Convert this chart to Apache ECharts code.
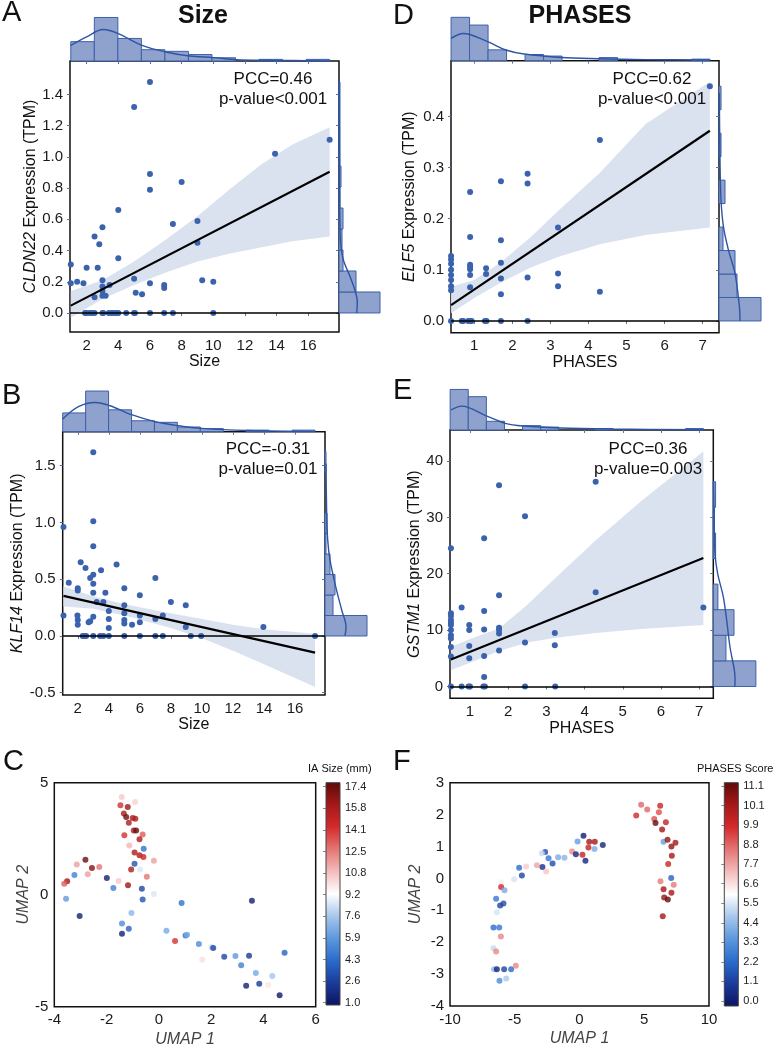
<!DOCTYPE html>
<html>
<head>
<meta charset="utf-8">
<title>Size / PHASES expression correlations</title>
<script src="https://cdn.jsdelivr.net/npm/echarts@6/dist/echarts.min.js"></script>
<style>
  html, body { margin: 0; padding: 0; background: #fff; }
  #chart { width: 776px; height: 1050px; }
</style>
</head>
<body>
<div id="chart"></div>
<script>
// ---------- data ----------

// A: CLDN22 vs Size
const aPoints = [
  [1.0, 0.31], [1.0, 0.19], [1.4, 0.2], [1.8, 0.19], [2.0, 0.29], [2.5, 0.49], [2.8, 0.44], [2.7, 0.29],
  [3.0, 0.55], [3.0, 0.21], [3.0, 0.17], [3.0, 0.14], [3.0, 0.11], [2.5, 0.1], [3.2, 0.11], [3.45, 0.18],
  [4.0, 0.66], [4.0, 0.35], [5.0, 1.32], [5.0, 0.22], [5.1, 0.13], [5.5, 0.12], [6.0, 1.48], [6.0, 0.89],
  [6.0, 0.79], [6.0, 0.19], [6.9, 0.18], [6.9, 0.16], [7.45, 0.57], [8.0, 0.84], [9.0, 0.59], [9.0, 0.45],
  [9.3, 0.21], [10.0, 0.2], [13.9, 1.02], [17.35, 1.11],
  [1.9, 0], [2.0, 0], [2.2, 0], [2.35, 0], [2.5, 0], [3.0, 0], [3.05, 0], [3.4, 0], [3.55, 0], [3.7, 0],
  [3.85, 0], [4.0, 0], [4.5, 0], [5.0, 0], [5.05, 0], [6.0, 0], [6.9, 0], [7.45, 0], [10.0, 0]
];
const aFit = [[1.0, 0.047], [17.35, 0.905]];
const aBand = [[1.0, -0.03, 0.14], [3, 0.09, 0.21], [5, 0.18, 0.33], [7, 0.26, 0.47], [9, 0.33, 0.62],
  [11, 0.38, 0.79], [13, 0.42, 0.95], [15, 0.46, 1.08], [17.35, 0.49, 1.19]];
const aTopBins = { start: 1.0, width: 1.486 };
const aTopCounts = [12, 27, 14, 7, 6, 4, 2, 0, 1, 0, 1];
const aTopKde = [[1.0, 9.7], [2.0, 15], [3.05, 19.5], [4.0, 17], [5.5, 9.7], [7.0, 5.6], [8.5, 3.1],
  [10, 2.1], [11.5, 0.8], [13, 0.5], [15, 0.3], [17.35, 0.1]];
const aRightBins = { start: 0, width: 0.1345 };
const aRightCounts = [41, 17, 4, 3, 4, 1, 2, 1, 1, 1, 1];
const aRightKde = [[17.7, 0], [18.3, 0.07], [16.7, 0.13], [11, 0.234], [4.3, 0.341], [1.6, 0.45],
  [1, 0.55], [0.6, 0.8], [0.4, 1.1], [0.2, 1.48]];

// B: KLF14 vs Size
const bPoints = [
  [1.08, 0.96], [1.08, 0.18], [1.42, 0.47], [1.98, 0.18], [2.0, 0.14], [2.0, 0.1], [2.19, 0.65], [2.5, 0.6],
  [2.8, 0.51], [3.0, 1.62], [3.0, 1.01], [3.0, 0.79], [3.0, 0.54], [3.0, 0.46], [3.0, 0.38], [3.0, 0.17],
  [2.8, 0.13], [2.7, 0.12], [2.0, 0.42], [2.0, 0.4], [3.22, 0.3], [3.5, 0.58], [3.78, 0.38], [3.65, 0.3],
  [4.0, 0.22], [4.0, 0.15], [4.0, 0.07], [4.5, 0.63], [5.0, 0.42], [5.0, 0.27], [5.0, 0.2], [5.0, 0.14],
  [5.0, 0.11], [5.5, 0.1], [6.0, 0.36], [6.0, 0.18], [6.0, 0.12], [7.0, 0.51], [7.0, 0.15], [7.48, 0.18],
  [8.0, 0.3], [8.96, 0.27], [8.96, 0.08], [13.96, 0.08],
  [2.32, 0], [2.43, 0], [2.54, 0], [3.0, 0], [3.44, 0], [3.65, 0], [4.0, 0], [5.0, 0], [6.0, 0], [7.0, 0],
  [7.48, 0], [9.28, 0], [9.95, 0], [17.29, 0]
];
const bFit = [[1.08, 0.353], [17.29, -0.147]];
const bBand = [[1.08, 0.259, 0.435], [3, 0.24, 0.35], [5, 0.18, 0.28], [8, 0.07, 0.2], [10, -0.02, 0.15],
  [12, -0.13, 0.1], [14, -0.25, 0.06], [17.29, -0.45, 0.02]];
const bTopBins = { start: 1.03, width: 1.478 };
const bTopCounts = [12, 26, 14, 7, 6, 3, 2, 0, 1, 0, 1];
const bTopKde = [[1.03, 8.1], [2.04, 16], [3.12, 18.7], [4.08, 16.6], [5.52, 10.7], [6.98, 6.4],
  [8.49, 3.8], [9.99, 2.1], [12.93, 0.8], [17.29, 0.2]];
const bRightBins = { start: 0, width: 0.1806 };
const bRightCounts = [42, 8, 10, 5, 1, 2, 0, 0, 1];
const bRightKde = [[20, 0], [21, 0.082], [16.7, 0.229], [10.7, 0.435], [5, 0.67], [2.7, 0.847],
  [1.7, 1.08], [1, 1.52]];

// D: ELF5 vs PHASES
const dPoints = [
  [0.39, 0.127], [0.39, 0.12], [0.39, 0.112], [0.39, 0.1], [0.39, 0.09], [0.39, 0.08], [0.39, 0.068], [0.39, 0.06],
  [0.89, 0.252], [0.89, 0.164], [0.89, 0.11], [0.89, 0.106], [0.89, 0.101], [0.89, 0.09], [0.89, 0.066],
  [1.31, 0.103], [1.31, 0.092], [1.7, 0.273], [1.7, 0.158], [1.7, 0.114], [1.7, 0.083], [1.7, 0.052],
  [2.4, 0.288], [2.4, 0.269], [2.4, 0.085], [3.2, 0.183], [3.2, 0.093], [3.2, 0.068],
  [4.3, 0.354], [4.3, 0.057], [7.19, 0.459],
  [0.39, 0], [0.67, 0], [0.71, 0], [0.84, 0], [0.89, 0], [0.93, 0], [1.28, 0], [1.32, 0], [1.7, 0], [2.4, 0]
];
const dFit = [[0.39, 0.031], [7.19, 0.372]];
const dBand = [[0.39, 0.015, 0.067], [1, 0.045, 0.08], [1.7, 0.075, 0.115], [2.5, 0.105, 0.165],
  [3.2, 0.125, 0.215], [4.3, 0.15, 0.29], [5.5, 0.168, 0.385], [7.19, 0.183, 0.468]];
const dTopBins = { start: 0.39, width: 0.486 };
const dTopCounts = [28, 23, 7, 0, 4, 3, 0, 0, 2, 0, 0, 0, 0, 1];
const dTopKde = [[0.39, 14.4], [0.71, 17.6], [1.35, 12.3], [1.83, 6.9], [2.31, 4.3], [3.29, 2.1],
  [4.25, 1.3], [5.5, 0.7], [7.19, 0.45]];
const dRightBins = { start: 0, width: 0.0459 };
const dRightCounts = [21, 9, 8, 2, 0, 3, 0, 1, 0, 1];
const dRightKde = [[10.5, 0], [10.2, 0.028], [8, 0.093], [4.7, 0.139], [2.2, 0.185], [1, 0.237],
  [0.5, 0.315], [0.15, 0.446]];

// E: GSTM1 vs PHASES
const ePoints = [
  [0.5, 24.5], [0.5, 13.0], [0.5, 12.5], [0.5, 11.8], [0.5, 11.3], [0.5, 10.9], [0.5, 10.0], [0.5, 9.1],
  [0.5, 8.5], [0.5, 7.0], [0.5, 5.3], [0.78, 14.0], [0.98, 10.9], [0.98, 10.0], [0.98, 7.2], [0.98, 5.0],
  [1.37, 26.3], [1.37, 13.4], [1.37, 10.1], [1.37, 5.4], [1.37, 1.7], [1.76, 35.7], [1.76, 16.2],
  [1.76, 10.4], [1.76, 10.0], [1.76, 9.4], [1.76, 6.4], [2.44, 30.2], [2.44, 7.8], [3.22, 9.5],
  [3.22, 7.3], [4.29, 36.3], [4.29, 16.7], [7.11, 14.0],
  [0.5, 0], [0.78, 0], [0.96, 0], [1.0, 0], [1.35, 0], [1.39, 0], [2.44, 0], [3.23, 0]
];
const eFit = [[0.5, 4.8], [7.11, 22.8]];
const eBand = [[0.5, 2.9, 7.0], [1, 4.2, 8.4], [1.76, 6.3, 10.3], [2.5, 7.8, 14.5], [3.2, 8.6, 19],
  [4.3, 9.5, 26], [5.5, 10.2, 33], [7.11, 10.9, 41.7]];
const eTopBins = { start: 0.48, width: 0.474 };
const eTopCounts = [28, 23, 6, 0, 3, 2, 0, 0, 1, 0, 0, 0, 0, 1];
const eTopKde = [[0.5, 13.8], [0.78, 16.5], [1.44, 9.6], [1.92, 4.6], [2.4, 2.75], [3.36, 1.4],
  [4.75, 0.7], [7.11, 0.2]];
const eRightBins = { start: 0, width: 4.54 };
const eRightCounts = [37, 11, 18, 4, 0, 2, 1, 2];
const eRightKde = [[18.7, 0], [18.9, 1.1], [18.3, 2.9], [14.5, 7.0], [11.6, 11.8], [8.7, 15.9],
  [3.7, 20.1], [1.5, 23.6], [0.6, 30.7], [0.2, 36.3]];

// C: UMAP coloured by IA size (mm)
const cUmap = [
  [-1.42, 4.36, 10.5], [-0.91, 4.14, 10.3], [-1.47, 3.99, 14], [-1.19, 3.91, 16], [-1.34, 3.62, 15.5],
  [-1.25, 3.47, 17], [-1.0, 3.42, 15.5], [-0.9, 3.39, 15.5], [-1.15, 3.21, 15.5], [-0.96, 2.87, 15.5],
  [-0.87, 2.87, 17], [-1.32, 2.65, 14], [-0.62, 2.69, 13], [-0.74, 2.47, 15.5], [-1.13, 2.2, 11],
  [-0.58, 2.05, 4.5], [-0.93, 1.88, 15.5], [-0.74, 1.76, 15.5], [-0.59, 1.68, 14.5], [-0.19, 1.52, 11.5],
  [-0.93, 1.38, 3.5], [-0.72, 1.13, 8.5], [-1.06, 1.12, 15.5], [-2.81, 1.56, 17], [-3.14, 1.35, 11.5],
  [-2.56, 1.19, 16.5], [-2.28, 1.24, 12.5], [-2.72, 0.91, 11.5], [-3.23, 0.88, 5], [-3.51, 0.6, 16],
  [-3.62, 0.49, 13], [-1.99, 0.74, 1.5], [-1.54, 0.61, 10.5], [-1.18, 0.42, 16], [-0.46, 0.8, 12.5],
  [-1.74, 0.3, 5], [-0.65, 0.27, 3], [-0.19, 0.03, 8.5], [-3.55, -0.18, 6], [-0.62, -0.21, 3.5],
  [0.87, -0.37, 4.5], [3.56, -0.27, 1.5], [-3.03, -0.95, 1.5], [-1.05, -0.82, 7], [-1.41, -1.29, 5.5],
  [-1.15, -1.52, 4], [-1.41, -1.74, 1.5], [0.29, -1.61, 6.5], [1.02, -1.82, 4.5], [1.08, -1.79, 6.5],
  [0.62, -2.07, 14], [1.53, -2.2, 5.5], [2.02, -2.35, 8], [2.08, -2.38, 3], [2.5, -2.77, 3],
  [2.93, -2.74, 6], [3.45, -2.72, 2.5], [3.15, -3.15, 5], [1.66, -2.9, 10], [4.81, -2.59, 4],
  [3.71, -3.5, 6.5], [4.34, -3.63, 7.5], [3.34, -4.06, 1.5], [3.84, -3.97, 2.5], [4.19, -4.03, 9.8],
  [4.62, -4.49, 1.2]
];
const cBarLabels = ['1.0', '2.6', '4.3', '5.9', '7.6', '9.2', '10.8', '12.5', '14.1', '15.8', '17.4'];

// F: UMAP coloured by PHASES score
const fUmap = [
  [4.38, 1.97, 9], [4.76, 2.31, 8], [5.23, 2.16, 8], [6.23, 2.28, 9.2], [6.13, 2.07, 8.3], [5.77, 1.86, 8.3],
  [5.87, 1.74, 11], [6.38, 1.53, 10], [6.67, 1.76, 9.3], [6.49, 1.15, 3.5], [6.8, 1.21, 10.3],
  [7.1, 1.0, 10.3], [7.41, 1.12, 10], [7.13, 0.71, 10], [6.85, 0.45, 9.2], [7.08, 0.01, 2],
  [6.25, -0.09, 7.7], [7.28, -0.2, 7.7], [6.49, -0.34, 10], [6.54, -0.6, 10.3], [6.82, -0.66, 11],
  [7.1, -0.45, 10], [6.43, -1.19, 10],
  [0.31, 1.34, 0.3], [-0.15, 1.16, 3.5], [0.75, 1.15, 10], [1.18, 1.15, 10], [1.8, 1.05, 0.5],
  [0.69, 0.97, 9.3], [1.16, 0.92, 3.8], [0.23, 0.74, 9.3], [-0.57, 0.84, 7.5], [-0.28, 0.76, 0.5],
  [0.46, 0.55, 0.5], [-2.65, 0.83, 1.5], [-2.91, 0.79, 4.8], [-2.39, 0.63, 2.5], [-1.65, 0.66, 3.8],
  [-1.16, 0.65, 4], [-2.08, 0.47, 1.5], [-3.29, 0.41, 7], [-2.86, 0.36, 0.8], [-2.57, 0.22, 6.5],
  [-4.12, 0.37, 6.4], [-4.66, 0.33, 2.3], [-4.45, 0.09, 1.3], [-5.04, -0.03, 5],
  [-6.05, -0.11, 5.8], [-6.05, -0.27, 9], [-5.79, -0.37, 3.8], [-6.44, -0.64, 2.5], [-5.87, -0.79, 1.5],
  [-6.13, -0.85, 1.3], [-6.38, -1.06, 5], [-6.64, -1.54, 2.2], [-6.2, -1.54, 2.5], [-6.07, -1.82, 7.5],
  [-6.64, -2.19, 4.8], [-6.44, -2.29, 7.5], [-6.59, -2.85, 4], [-6.38, -2.85, 0.5], [-5.82, -2.85, 1.3],
  [-5.28, -2.85, 2.2], [-4.92, -2.74, 7.5], [-6.18, -3.21, 3], [-5.66, -3.14, 4.5]
];
const fBarLabels = ['0.0', '1.1', '2.2', '3.3', '4.4', '5.5', '6.6', '7.7', '8.8', '9.9', '10.1', '11.1'];

// ---------- styles ----------
const FONT = '"Liberation Sans", Arial, sans-serif';
const DOT = '#3b63ad';
const HIST_FILL = '#8fa2cd';
const HIST_EDGE = '#3d5fa9';
const KDE = '#2d55a5';
const BAND = '#dbe2ef';
const TICK = '#5673b0';
const PALETTE = ['#0c1460', '#1b3a9a', '#2a6bcc', '#5b98de', '#a7c6ec', '#ffffff',
  '#f4bcbc', '#e57575', '#d42a2a', '#a51818', '#5e0a0a'];

const grid = [], xAxis = [], yAxis = [], series = [], visualMap = [];

function addGrid(rect, xa, ya, boxed) {
  grid.push(Object.assign({ show: !!boxed, borderColor: '#111', borderWidth: 1.5, backgroundColor: 'transparent' }, rect));
  const gi = grid.length - 1;
  xAxis.push(Object.assign({ gridIndex: gi, type: 'value', splitLine: { show: false } }, xa));
  yAxis.push(Object.assign({ gridIndex: gi, type: 'value', splitLine: { show: false } }, ya));
  return gi;
}

function ticksOnly(values) {
  return {
    axisLine: { show: false },
    axisTick: { show: true, length: 3, customValues: values, lineStyle: { color: TICK } },
    axisLabel: { show: false }
  };
}

function labelled(values, fmt, margin) {
  return {
    axisLine: { show: false },
    axisTick: { show: true, length: 3, customValues: values, lineStyle: { color: TICK } },
    axisLabel: { customValues: values, formatter: fmt, margin: margin, color: '#1a1a1a', fontSize: 15, fontFamily: FONT }
  };
}

function bins(spec, counts) {
  return counts
    .map((c, i) => [spec.start + i * spec.width, spec.start + (i + 1) * spec.width, c])
    .filter(b => b[2] > 0);
}

function topBar(params, api) {
  const a = api.coord([api.value(0), api.value(2)]);
  const b = api.coord([api.value(1), 0]);
  return { type: 'rect', shape: { x: a[0], y: a[1], width: b[0] - a[0], height: b[1] - a[1] },
    style: { fill: HIST_FILL, stroke: HIST_EDGE, lineWidth: 1 } };
}

function rightBar(params, api) {
  const a = api.coord([api.value(2), api.value(1)]);
  const b = api.coord([0, api.value(0)]);
  return { type: 'rect', shape: { x: b[0], y: a[1], width: a[0] - b[0], height: b[1] - a[1] },
    style: { fill: HIST_FILL, stroke: HIST_EDGE, lineWidth: 1 } };
}

function bandRenderer(band) {
  return function (params, api) {
    const upper = band.map(b => api.coord([b[0], b[2]]));
    const lower = band.slice().reverse().map(b => api.coord([b[0], b[1]]));
    const cs = params.coordSys;
    return {
      type: 'polygon',
      shape: { points: upper.concat(lower) },
      style: { fill: BAND },
      clipPath: { type: 'rect', shape: { x: cs.x, y: cs.y, width: cs.width, height: cs.height } }
    };
  };
}

function kdeSeries(gi, data) {
  return { type: 'line', xAxisIndex: gi, yAxisIndex: gi, data: data, smooth: 0.35, symbol: 'none',
    silent: true, z: 5, lineStyle: { color: KDE, width: 1.4 } };
}

const yName = { fontSize: 16, color: '#111', fontFamily: FONT,
  rich: { g: { fontStyle: 'italic', fontSize: 16, color: '#111', fontFamily: FONT } } };
const xName = { fontSize: 16, color: '#111', fontFamily: FONT };

function jointPanel(p) {
  const m = addGrid(p.box,
    Object.assign({ min: p.xRange[0], max: p.xRange[1], name: p.xTitle, nameLocation: 'middle',
      nameGap: p.xNameGap, nameTextStyle: xName }, labelled(p.xTicks, v => String(v), 6)),
    Object.assign({ min: p.yRange[0], max: p.yRange[1], name: '{g|' + p.gene + '} Expression (TPM)',
      nameLocation: 'middle', nameRotate: 90, nameGap: p.yNameGap, nameTextStyle: yName },
      labelled(p.yTicks, p.yFmt, 7)),
    true);

  series.push({ type: 'custom', xAxisIndex: m, yAxisIndex: m, z: 1, silent: true,
    data: [p.band[0]], renderItem: bandRenderer(p.band) });
  series.push({ type: 'scatter', xAxisIndex: m, yAxisIndex: m, z: 3, symbolSize: 6,
    itemStyle: { color: DOT, opacity: 1 }, data: p.points,
    markLine: { silent: true, symbol: ['none', 'none'], animation: false, label: { show: false },
      lineStyle: { color: '#000', width: 1.5, type: 'solid' }, data: [{ yAxis: 0 }] } });
  series.push({ type: 'line', xAxisIndex: m, yAxisIndex: m, z: 4, data: p.fit, symbol: 'none',
    silent: true, lineStyle: { color: '#000', width: 2.2 } });

  const t = addGrid(p.topBox,
    Object.assign({ min: p.xRange[0], max: p.xRange[1] }, ticksOnly(p.xTicks)),
    { min: 0, max: p.topMax, show: false });
  series.push({ type: 'custom', xAxisIndex: t, yAxisIndex: t, silent: true,
    data: bins(p.topBins, p.topCounts), renderItem: topBar });
  series.push(kdeSeries(t, p.topKde));

  const r = addGrid(p.rightBox,
    { min: 0, max: p.rightMax, show: false },
    Object.assign({ min: p.yRange[0], max: p.yRange[1] }, ticksOnly(p.yTicks)));
  series.push({ type: 'custom', xAxisIndex: r, yAxisIndex: r, silent: true,
    data: bins(p.rightBins, p.rightCounts), renderItem: rightBar });
  series.push(kdeSeries(r, p.rightKde));
}

const oneDec = v => v.toFixed(1);

jointPanel({
  box: { left: 70, top: 61, width: 269, height: 271 },
  topBox: { left: 70, top: 17, width: 269, height: 44 },
  rightBox: { left: 339, top: 61, width: 45, height: 271 },
  xRange: [0.95, 17.94], yRange: [-0.122, 1.615],
  xTicks: [2, 4, 6, 8, 10, 12, 14, 16], yTicks: [0, 0.2, 0.4, 0.6, 0.8, 1.0, 1.2, 1.4], yFmt: oneDec,
  xTitle: 'Size', gene: 'CLDN22', xNameGap: 21, yNameGap: 23,
  points: aPoints, fit: aFit, band: aBand,
  topBins: aTopBins, topCounts: aTopCounts, topKde: aTopKde, topMax: 27.3,
  rightBins: aRightBins, rightCounts: aRightCounts, rightKde: aRightKde, rightMax: 45
});

jointPanel({
  box: { left: 62.7, top: 431.7, width: 262.3, height: 263.3 },
  topBox: { left: 62.7, top: 389, width: 262.3, height: 42.7 },
  rightBox: { left: 325, top: 431.7, width: 50, height: 263.3 },
  xRange: [1.03, 17.93], yRange: [-0.52, 1.8],
  xTicks: [2, 4, 6, 8, 10, 12, 14, 16], yTicks: [-0.5, 0, 0.5, 1.0, 1.5], yFmt: oneDec,
  xTitle: 'Size', gene: 'KLF14', xNameGap: 22, yNameGap: 28,
  points: bPoints, fit: bFit, band: bBand,
  topBins: bTopBins, topCounts: bTopCounts, topKde: bTopKde, topMax: 27.3,
  rightBins: bRightBins, rightCounts: bRightCounts, rightKde: bRightKde, rightMax: 50
});

jointPanel({
  box: { left: 451, top: 60.7, width: 268, height: 272 },
  topBox: { left: 451, top: 16.7, width: 268, height: 44 },
  rightBox: { left: 719, top: 60.7, width: 57, height: 272 },
  xRange: [0.388, 7.43], yRange: [-0.023, 0.509],
  xTicks: [1, 2, 3, 4, 5, 6, 7], yTicks: [0, 0.1, 0.2, 0.3, 0.4], yFmt: oneDec,
  xTitle: 'PHASES', gene: 'ELF5', xNameGap: 21, yNameGap: 33,
  points: dPoints, fit: dFit, band: dBand,
  topBins: dTopBins, topCounts: dTopCounts, topKde: dTopKde, topMax: 28.4,
  rightBins: dRightBins, rightCounts: dRightCounts, rightKde: dRightKde, rightMax: 28.5
});

jointPanel({
  box: { left: 450, top: 430, width: 263.3, height: 268.3 },
  topBox: { left: 450, top: 389, width: 263.3, height: 41 },
  rightBox: { left: 713.3, top: 430, width: 62.7, height: 268.3 },
  xRange: [0.476, 7.37], yRange: [-2.1, 45.5],
  xTicks: [1, 2, 3, 4, 5, 6, 7], yTicks: [0, 10, 20, 30, 40], yFmt: v => String(v),
  xTitle: 'PHASES', gene: 'GSTM1', xNameGap: 20, yNameGap: 25,
  points: ePoints, fit: eFit, band: eBand,
  topBins: eTopBins, topCounts: eTopCounts, topKde: eTopKde, topMax: 28.3,
  rightBins: eRightBins, rightCounts: eRightCounts, rightKde: eRightKde, rightMax: 54.5
});

// ---------- UMAP panels ----------
const umapTick = { axisLine: { show: false }, axisTick: { show: false },
  axisLabel: { color: '#1a1a1a', fontSize: 15, fontFamily: FONT, margin: 6 } };
const umapName = { fontSize: 16, fontStyle: 'italic', color: '#444', fontFamily: FONT };

function umapPanel(p) {
  const gi = addGrid(p.box,
    Object.assign({ min: p.xRange[0], max: p.xRange[1], interval: p.xStep, name: 'UMAP 1',
      nameLocation: 'middle', nameGap: 25, nameTextStyle: umapName }, umapTick),
    Object.assign({ min: p.yRange[0], max: p.yRange[1], interval: p.yStep, name: 'UMAP 2',
      nameLocation: 'middle', nameRotate: 90, nameGap: p.yNameGap, nameTextStyle: umapName }, umapTick),
    true);
  series.push({ type: 'scatter', xAxisIndex: gi, yAxisIndex: gi, symbolSize: 6, data: p.points, z: 3 });
  visualMap.push({ type: 'continuous', show: false, seriesIndex: series.length - 1, dimension: 2,
    min: p.vRange[0], max: p.vRange[1], inRange: { color: PALETTE } });

  const idx = p.labels.map((_, i) => i);
  const cb = addGrid(p.barBox,
    { min: 0, max: 1, show: false },
    { min: p.barRange[0], max: p.barRange[1], position: 'right', axisLine: { show: false },
      axisTick: { show: true, inside: true, length: 3, customValues: idx, lineStyle: { color: '#888' } },
      axisLabel: { customValues: idx, formatter: v => p.labels[Math.round(v)], fontSize: 11, margin: 5,
        color: '#222', fontFamily: FONT } },
    false);
  series.push({ type: 'custom', xAxisIndex: cb, yAxisIndex: cb, silent: true, data: [[0, p.barRange[0]]], z: 1,
    renderItem: function (params) {
      const cs = params.coordSys;
      return { type: 'rect', shape: { x: cs.x, y: cs.y, width: cs.width, height: cs.height },
        style: { fill: new echarts.graphic.LinearGradient(0, 1, 0, 0,
          PALETTE.map((c, i) => ({ offset: i / (PALETTE.length - 1), color: c }))), stroke: '#444', lineWidth: 1 } };
    } });
}

umapPanel({
  box: { left: 54.3, top: 782.7, width: 261.4, height: 224 },
  barBox: { left: 326, top: 782.7, width: 14, height: 222.3 },
  xRange: [-4, 6], xStep: 2, yRange: [-5, 5], yStep: 5, yNameGap: 22,
  points: cUmap, vRange: [1.0, 17.4], labels: cBarLabels, barRange: [-0.106, 10.185]
});

umapPanel({
  box: { left: 450, top: 782.7, width: 259, height: 223.3 },
  barBox: { left: 724.3, top: 782.7, width: 14, height: 223.3 },
  xRange: [-10, 10], xStep: 5, yRange: [-4, 3], yStep: 1, yNameGap: 26,
  points: fUmap, vRange: [0, 11.1], labels: fBarLabels, barRange: [-0.26, 11.17]
});

// ---------- free text ----------
function txt(text, x, y, font, align, extra) {
  return { type: 'text', x: x, y: y, silent: true, z: 100,
    style: Object.assign({ text: text, font: font, fill: '#111', textAlign: align, align: align,
      textVerticalAlign: 'middle', verticalAlign: 'middle' }, extra || {}) };
}
const LETTER = '29px ' + FONT;
const TITLE = 'bold 25px ' + FONT;
const STAT = '17px ' + FONT;
const CB = '11px ' + FONT;

const graphic = [
  txt('A', 2, 12.5, LETTER, 'left'), txt('B', 2, 396, LETTER, 'left'), txt('C', 3, 762, LETTER, 'left'),
  txt('D', 393, 15.5, LETTER, 'left'), txt('E', 393, 391, LETTER, 'left'), txt('F', 393, 762, LETTER, 'left'),
  txt('Size', 203, 16, TITLE, 'center'), txt('PHASES', 580, 16, TITLE, 'center'),
  txt('PCC=0.46\np-value<0.001', 273, 89, STAT, 'center', { lineHeight: 20 }),
  txt('PCC=0.62\np-value<0.001', 652, 89, STAT, 'center', { lineHeight: 20 }),
  txt('PCC=-0.31\np-value=0.01', 268, 459, STAT, 'center', { lineHeight: 20 }),
  txt('PCC=0.36\np-value=0.003', 648, 459, STAT, 'center', { lineHeight: 20 }),
  txt('IA Size (mm)', 308, 769, CB, 'left'),
  txt('PHASES Score', 697, 769, CB, 'left')
];

const chart = echarts.init(document.getElementById('chart'), null, { renderer: 'canvas' });
chart.setOption({
  animation: false,
  backgroundColor: '#fff',
  textStyle: { fontFamily: FONT },
  grid: grid,
  xAxis: xAxis,
  yAxis: yAxis,
  visualMap: visualMap,
  series: series,
  graphic: graphic
});
</script>
</body>
</html>
